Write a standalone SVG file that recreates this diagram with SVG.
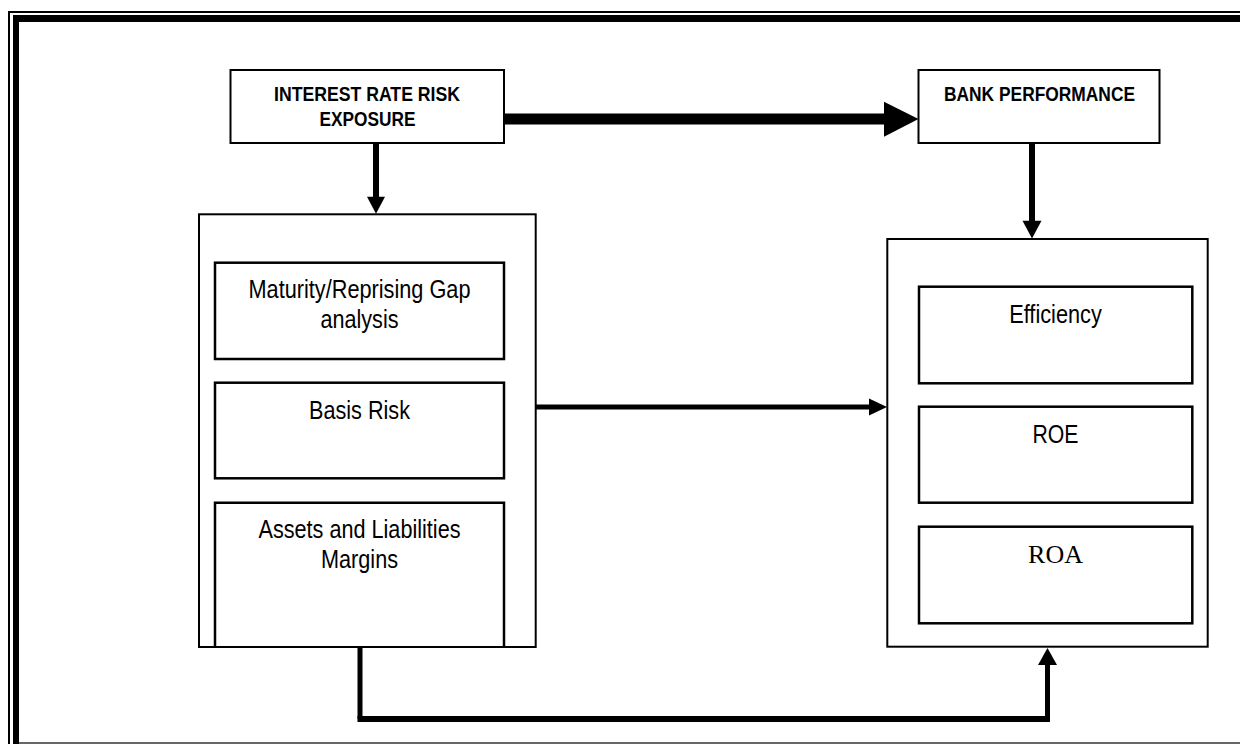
<svg xmlns="http://www.w3.org/2000/svg" width="1240" height="744" viewBox="0 0 1240 744">
<style>
.box{fill:#fff;stroke:#000;stroke-width:2}
.inner{fill:none;stroke:#000;stroke-width:2.5}
.t{font-family:"Liberation Sans Narrow","Arial Narrow","Liberation Sans",Arial,sans-serif;font-size:26px;fill:#000;text-anchor:middle}
.tb{font-family:"Liberation Sans Narrow","Arial Narrow","Liberation Sans",Arial,sans-serif;font-size:21px;font-weight:bold;fill:#000;text-anchor:middle}
.ts{font-family:"Liberation Serif","Times New Roman",serif;font-size:26px;fill:#000;text-anchor:middle}
.ln{fill:none;stroke:#000}
.hd{fill:#000;stroke:none}
</style>
<rect x="0" y="0" width="1240" height="744" fill="#fff"/>
<g id="frame">
<line x1="8" y1="12" x2="1240" y2="12" stroke="#000" stroke-width="2"/>
<line x1="13" y1="18.5" x2="1240" y2="18.5" stroke="#000" stroke-width="7"/>
<line x1="9" y1="11" x2="9" y2="744" stroke="#000" stroke-width="2"/>
<line x1="16" y1="15" x2="16" y2="744" stroke="#000" stroke-width="6"/>
<line x1="19" y1="743" x2="1240" y2="743" stroke="#666" stroke-width="2"/>
</g>
<g id="connectors">
<rect class="hd" x="504" y="113.5" width="381" height="11"/>
<polygon class="hd" points="884,101.7 918.5,119 884,136.7"/>
<line class="ln" x1="376" y1="143" x2="376" y2="198" stroke-width="6"/>
<polygon class="hd" points="367,196.7 385,196.7 376,213.8"/>
<line class="ln" x1="1032" y1="143" x2="1032" y2="222" stroke-width="6"/>
<polygon class="hd" points="1022.5,220.7 1041.5,220.7 1032,238.5"/>
<line class="ln" x1="536" y1="407" x2="870" y2="407" stroke-width="5"/>
<polygon class="hd" points="869,398.5 887,407 869,415.5"/>
<line class="ln" x1="360" y1="647" x2="360" y2="719" stroke-width="5"/>
<line class="ln" x1="357.5" y1="719" x2="1050" y2="719" stroke-width="6"/>
<line class="ln" x1="1047.5" y1="722" x2="1047.5" y2="664" stroke-width="5"/>
<polygon class="hd" points="1038,665 1057,665 1047.5,648"/>
</g>
<g id="n-exposure">
<rect class="box" x="230.5" y="70" width="273.5" height="73"/>
<text class="tb" x="367" y="101" textLength="186" lengthAdjust="spacingAndGlyphs">INTEREST RATE RISK</text>
<text class="tb" x="367.5" y="126" textLength="96" lengthAdjust="spacingAndGlyphs">EXPOSURE</text>
</g>
<g id="n-performance">
<rect class="box" x="918.5" y="70" width="241" height="73"/>
<text class="tb" x="1039.5" y="101" textLength="191" lengthAdjust="spacingAndGlyphs">BANK PERFORMANCE</text>
</g>
<g id="n-risk-measures">
<rect class="box" x="199" y="214.3" width="336.7" height="432.7"/>
</g>
<g id="n-maturity">
<rect class="inner" x="215" y="262.7" width="289" height="96.3"/>
<text class="t" x="359.5" y="298.3" textLength="222" lengthAdjust="spacingAndGlyphs">Maturity/Reprising Gap</text>
<text class="t" x="359.5" y="328.3" textLength="78" lengthAdjust="spacingAndGlyphs">analysis</text>
</g>
<g id="n-basis">
<rect class="inner" x="215" y="382.7" width="289" height="95.6"/>
<text class="t" x="359.5" y="419" textLength="101" lengthAdjust="spacingAndGlyphs">Basis Risk</text>
</g>
<g id="n-assets">
<path class="inner" d="M215,647 V502.7 H504 V647"/>
<text class="t" x="359.5" y="537.7" textLength="202" lengthAdjust="spacingAndGlyphs">Assets and Liabilities</text>
<text class="t" x="359.5" y="568.3" textLength="77" lengthAdjust="spacingAndGlyphs">Margins</text>
</g>
<g id="n-perf-measures">
<rect class="box" x="887.3" y="239" width="320.4" height="407.7"/>
</g>
<g id="n-efficiency">
<rect class="inner" x="919" y="286.7" width="273.3" height="96.6"/>
<text class="t" x="1055.5" y="322.7" textLength="92.5" lengthAdjust="spacingAndGlyphs">Efficiency</text>
</g>
<g id="n-roe">
<rect class="inner" x="919" y="406.7" width="273.3" height="96"/>
<text class="t" x="1055.5" y="442.7" textLength="46" lengthAdjust="spacingAndGlyphs">ROE</text>
</g>
<g id="n-roa">
<rect class="inner" x="919" y="526.7" width="273.3" height="96.6"/>
<text class="ts" x="1055.5" y="562.7">ROA</text>
</g>
</svg>
